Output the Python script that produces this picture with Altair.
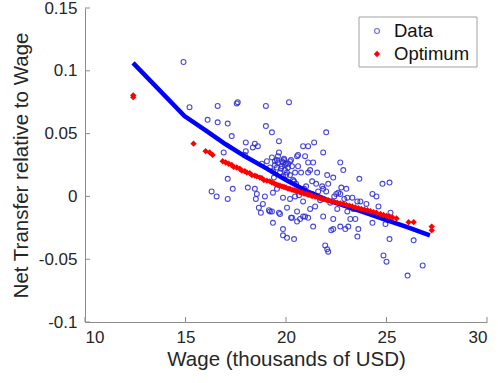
import altair as alt
import pandas as pd

# ---------------- data ----------------
data_x = [14.9, 15.2, 16.6, 17.55, 17.6, 19.0, 20.15, 16.1, 16.6, 17.1, 17.3, 19.0, 19.3, 19.65,
          18.0, 18.45, 18.35, 18.6, 16.9, 18.0, 17.95, 19.65, 20.55, 22.0, 20.85, 21.1, 21.4,
          21.85, 20.6, 20.95, 22.7, 22.85, 21.1, 21.35, 20.2, 19.85, 19.55, 19.8, 19.95, 20.25,
          19.05, 18.8, 19.45, 19.2,
          20.75, 20.45, 21.1, 21.55, 22.05, 22.35, 23.65, 21.3, 21.8, 21.85, 22.75, 23.0, 19.35,
          19.85, 20.2, 20.45, 20.85, 21.85, 22.2, 23.55, 23.7, 24.3, 24.5, 24.8, 25.15, 20.05,
          21.2, 21.45, 22.55, 23.05, 23.35, 19.7, 20.3, 20.55, 20.85, 21.85, 22.35, 23.2, 23.45,
          19.35, 21.35, 22.25, 22.35, 22.7, 22.95, 23.1, 23.6, 19.85, 19.85, 20.05, 20.4, 23.55,
          21.95, 22.05, 22.1, 24.3, 25.15, 24.85, 25.0, 26.05, 26.8, 26.35, 25.2, 24.95, 20.7,
          21.1, 20.95, 20.55,
          17.1, 16.3, 16.55, 17.1, 17.35, 18.1, 18.45, 18.55, 18.5, 18.95, 18.85, 18.65, 18.75,
          19.15, 19.2, 19.65, 19.55, 20.25,
          19.3, 19.45, 19.6, 19.8, 19.95, 20.1, 19.55, 19.35, 19.7, 20.05, 20.2, 19.85, 19.9,
          20.0, 20.3, 21.6, 22.4, 22.9, 20.9, 21.3, 23.3, 24.0, 24.6, 20.4, 22.1, 22.7, 23.05,
          19.3, 21.5, 22.0, 22.5, 21.0, 20.5, 20.35, 20.65, 21.7, 22.6,
          19.75, 19.9, 20.1, 19.6, 20.0, 19.4, 20.6, 21.2]
data_y = [0.107, 0.071, 0.072, 0.074, 0.075, 0.072, 0.075, 0.061, 0.059, 0.058, 0.048, 0.056,
          0.051, 0.044, 0.043, 0.042, 0.039, 0.040, 0.035, 0.036, 0.033, 0.035, 0.032, 0.051,
          0.040, 0.040, 0.043, 0.035, 0.033, 0.032, 0.027, 0.021, 0.027, 0.027, 0.028, 0.027,
          0.029, 0.028, 0.025, 0.029, 0.028, 0.026, 0.025, 0.023,
          0.019, 0.019, 0.019, 0.019, 0.017, 0.015, 0.014, 0.012, 0.008, 0.006, 0.007, 0.006,
          0.003, -0.001, -0.002, 0.000, -0.004, -0.002, -0.005, -0.004, -0.004, 0.002, 0.000,
          0.010, 0.011, -0.009, -0.010, -0.008, -0.010, -0.012, -0.010, -0.014, -0.017, -0.020,
          -0.016, -0.016, -0.018, -0.018, -0.018, -0.021, -0.024, -0.027, -0.026, -0.024,
          -0.026, -0.024, -0.026, -0.026, -0.031, -0.033, -0.034, -0.032, -0.039, -0.042,
          -0.044, -0.021, -0.034, -0.047, -0.052, -0.063, -0.055, -0.035, -0.013, -0.022,
          -0.018, -0.017, -0.016, -0.012,
          0.014, 0.004, 0.000, -0.002, 0.006, 0.007, 0.006, 0.002, -0.002, 0.000, -0.006, -0.009,
          -0.013, -0.011, -0.012, -0.013, 0.006, -0.017,
          0.031, 0.028, 0.027, 0.024, 0.021, 0.023, 0.023, 0.020, 0.019, 0.019, 0.017, 0.016,
          0.029, 0.026, 0.024, 0.004, 0.000, -0.002, 0.006, 0.002, -0.001, -0.006, -0.008,
          0.012, 0.010, 0.002, -0.001, -0.012, 0.010, 0.004, 0.002, 0.008, 0.010, 0.013, 0.001,
          -0.003, 0.003,
          0.022, 0.030, 0.026, 0.032, 0.017, 0.015, 0.024, 0.021]

opt_x = [12.4, 12.4, 15.4, 16.0, 16.2, 16.35, 16.85, 17.0, 17.15, 17.3, 17.4, 17.55, 17.7, 17.8,
         17.95, 18.05, 18.2, 18.3, 18.45, 18.55, 18.7, 18.8, 18.9, 19.05, 19.2, 19.3, 19.4, 19.5,
         19.6, 19.7, 19.8, 19.9, 20.0, 20.1, 20.2, 20.3, 20.4, 20.5, 20.6, 20.7, 20.8, 20.9, 21.0,
         21.1, 21.2, 21.3, 21.45, 21.6, 21.7, 21.85, 22.0, 22.1, 22.25, 22.4, 22.55, 22.7, 22.85,
         23.0, 23.15, 23.3, 23.45, 23.6, 23.75, 23.9, 24.05, 24.2, 24.35, 24.5, 24.7, 24.85, 25.0,
         25.15, 25.3, 25.5, 26.1, 26.35, 27.25, 27.25]
opt_y = [0.0805, 0.0790, 0.042, 0.036, 0.035, 0.033, 0.028, 0.027, 0.026, 0.025, 0.0235, 0.023,
         0.022, 0.0205, 0.020, 0.019, 0.0185, 0.017, 0.0165, 0.016, 0.015, 0.0145, 0.013, 0.0125,
         0.012, 0.011, 0.0105, 0.0095, 0.009, 0.0085, 0.008, 0.0075, 0.007, 0.0062, 0.006,
         0.0052, 0.005, 0.0043, 0.004, 0.0032, 0.003, 0.0022, 0.002, 0.0013, 0.001, 0.0003,
         -0.0002, -0.001, -0.0015, -0.002, -0.0027, -0.003, -0.0037, -0.0043, -0.005, -0.0055,
         -0.006, -0.0068, -0.0073, -0.008, -0.0087, -0.0093, -0.010, -0.0105, -0.011, -0.0118,
         -0.0125, -0.013, -0.014, -0.0148, -0.0155, -0.016, -0.0168, -0.0175, -0.0205, -0.0205,
         -0.024, -0.027]

fit_x = [12.39, 14.95, 16.0, 17.0, 18.0, 19.0, 20.0, 21.0, 22.0, 23.0, 24.0, 25.0, 26.0, 27.16]
fit_y = [0.1063, 0.0640, 0.0525, 0.0415, 0.0315, 0.0225, 0.0130, 0.0045, -0.0025, -0.0080,
         -0.0133, -0.0188, -0.0243, -0.0310]

x_ticks = [10, 15, 20, 25, 30]
y_ticks = [-0.1, -0.05, 0, 0.05, 0.1, 0.15]
legend_labels = ["Data", "Optimum"]

# ---------------- styling ----------------
FONT = "Liberation Sans"
TXT = "#262626"
AX = "#8c8c8c"
W, H = 402, 314

xs = alt.Scale(domain=[10, 30], nice=False, zero=False)
ys = alt.Scale(domain=[-0.1, 0.15], nice=False, zero=False)

x_axis = alt.Axis(values=x_ticks, format="d", title="Wage (thousands of USD)", grid=False,
                  ticks=False, domainColor=AX, labelFontSize=17, labelColor=TXT,
                  titleFontSize=20.5, titleColor=TXT, titleFontWeight="normal",
                  labelPadding=7, titlePadding=4, labelFont=FONT, titleFont=FONT)
y_axis = alt.Axis(values=y_ticks, labelExpr="'' + datum.value",
                  title="Net Transfer relative to Wage", grid=False, ticks=False,
                  domainColor=AX, labelFontSize=17, labelColor=TXT, titleFontSize=20.5,
                  titleColor=TXT, titleFontWeight="normal", labelPadding=8, titlePadding=7,
                  labelFont=FONT, titleFont=FONT)

X = alt.X("x:Q", scale=xs, axis=x_axis)
Y = alt.Y("y:Q", scale=ys, axis=y_axis)

df_data = pd.DataFrame({"x": data_x, "y": data_y})
df_opt = pd.DataFrame({"x": opt_x, "y": opt_y})
df_fit = pd.DataFrame({"x": fit_x, "y": fit_y})

circles = alt.Chart(df_data).mark_point(shape="circle", filled=False, size=24,
                                        stroke="#2a2ad0", strokeWidth=1.1,
                                        opacity=0.85).encode(x=X, y=Y)
fit_line = alt.Chart(df_fit).mark_line(color="#0000ff", strokeWidth=4.5,
                                       interpolate="linear").encode(x=X, y=Y)
optimum = alt.Chart(df_opt).mark_point(shape="diamond", filled=True, size=40,
                                       color="#ff0000", opacity=1).encode(x=X, y=Y)

xtick_rules = alt.Chart(pd.DataFrame({"x": x_ticks})).mark_rule(color=AX, strokeWidth=1).encode(
    x=X, y=alt.value(H), y2=alt.value(H - 5))
ytick_rules = alt.Chart(pd.DataFrame({"y": y_ticks})).mark_rule(color=AX, strokeWidth=1).encode(
    y=Y, x=alt.value(0), x2=alt.value(5))

# legend (drawn by hand, in the top-right corner)
leg_box = alt.Chart(pd.DataFrame({"a": [0]})).mark_rect(
    fill="white", stroke="#a0a0a0", strokeWidth=1).encode(
    x=alt.value(274), x2=alt.value(392), y=alt.value(9), y2=alt.value(59))
leg_data_sym = alt.Chart(pd.DataFrame({"a": [0]})).mark_point(
    shape="circle", filled=False, size=24, stroke="#2a2ad0", strokeWidth=1.1).encode(
    x=alt.value(292), y=alt.value(23))
leg_opt_sym = alt.Chart(pd.DataFrame({"a": [0]})).mark_point(
    shape="diamond", filled=True, size=40, color="#ff0000", opacity=1).encode(
    x=alt.value(292), y=alt.value(46))
leg_text = alt.Chart(pd.DataFrame({"label": legend_labels, "yy": [23, 46]})).mark_text(
    align="left", baseline="middle", font=FONT, fontSize=18.5, color="#111111").encode(
    text="label:N", x=alt.value(309), y=alt.Y("yy:Q", scale=None))

chart = alt.layer(
    circles, fit_line, optimum, xtick_rules, ytick_rules,
    leg_box, leg_data_sym, leg_opt_sym, leg_text
).properties(
    width=W, height=H,
    autosize=alt.AutoSizeParams(type="none"),
    padding={"left": 85, "top": 8, "right": 11, "bottom": 61},
    background="white",
).configure_view(stroke=None)

chart.save("out.html", embed_options={"renderer": "svg", "actions": False})
